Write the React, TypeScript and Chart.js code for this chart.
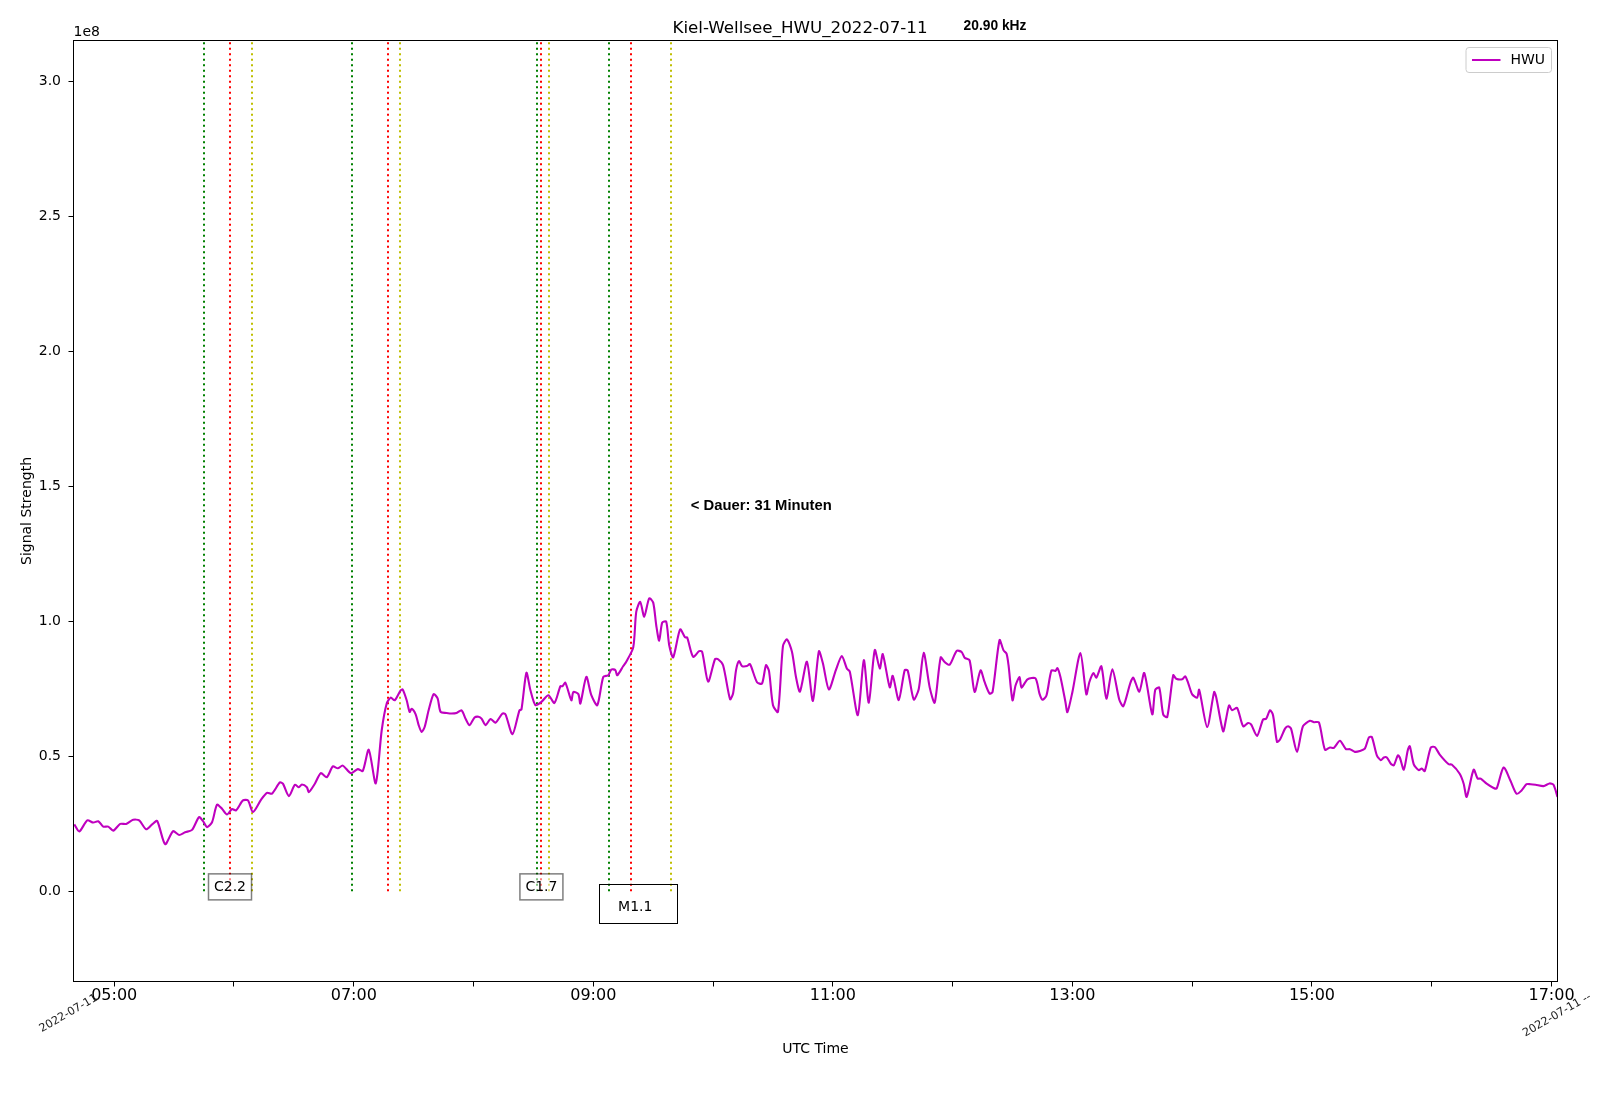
import React, { useEffect, useRef } from "react";
import { Chart, registerables } from "chart.js";

Chart.register(...registerables);

// ---------- texts ----------
const TITLE = "Kiel-Wellsee_HWU_2022-07-11";
const FREQ_LABEL = "20.90 kHz";
const SERIES_NAME = "HWU";
const X_LABEL = "UTC Time";
const Y_LABEL = "Signal Strength";
const Y_OFFSET_LABEL = "1e8";
const DATE_LABEL_LEFT = "2022-07-11";
const DATE_LABEL_RIGHT = "2022-07-11 --";
const DURATION_TEXT = "< Dauer: 31 Minuten";
const DURATION_AT_TIME = "09:48:50";
const DURATION_AT_VALUE = 1.43;

// ---------- axes ----------
const X_MIN = "04:39:36";
const X_MAX = "17:03:00";
const X_TICKS = ["05:00", "06:00", "07:00", "08:00", "09:00", "10:00", "11:00", "12:00", "13:00", "14:00", "15:00", "16:00", "17:00"];
const X_TICK_LABELS = ["05:00", "07:00", "09:00", "11:00", "13:00", "15:00", "17:00"];
const Y_MIN = -0.334;
const Y_MAX = 3.153;
const Y_TICKS = [0, 0.5, 1.0, 1.5, 2.0, 2.5, 3.0];

// ---------- flare events ----------
const flareStart = ["05:45", "06:59", "08:32", "09:08"];
const flarePeak = ["05:58", "07:17", "08:34", "09:19"];
const flareEnd = ["06:09", "07:23", "08:38", "09:39"];
const flareClass = ["C2.2", "", "C1.7", "M1.1"];

// ---------- series (signal strength, units of 1e8) ----------
const times = [
  "04:40:00", "04:42:30", "04:46:30", "04:49:30", "04:52:00", "04:54:30", "04:57:00", "04:59:30",
  "05:03:00", "05:06:00", "05:09:30", "05:12:30", "05:16:00", "05:19:00", "05:21:30", "05:25:30",
  "05:29:30", "05:32:30", "05:35:30", "05:39:00", "05:42:30", "05:44:30", "05:46:30", "05:49:00",
  "05:51:30", "05:54:00", "05:56:30", "05:59:00", "06:01:00", "06:04:30", "06:07:00", "06:09:30",
  "06:13:30", "06:16:30", "06:19:00", "06:23:00", "06:24:30", "06:27:30", "06:30:30", "06:32:30",
  "06:34:00", "06:36:30", "06:37:30", "06:40:30", "06:43:30", "06:46:30", "06:49:30", "06:52:00",
  "06:54:30", "06:58:30", "07:02:00", "07:04:30", "07:07:30", "07:11:00", "07:14:00", "07:16:30",
  "07:18:30", "07:20:30", "07:23:30", "07:24:30", "07:26:30", "07:28:00", "07:29:00", "07:31:00",
  "07:32:30", "07:34:00", "07:35:30", "07:37:30", "07:40:00", "07:42:00", "07:43:30", "07:46:30",
  "07:49:00", "07:51:30", "07:54:00", "07:56:00", "07:58:00", "08:00:30", "08:02:30", "08:04:00",
  "08:06:00", "08:08:30", "08:11:00", "08:14:30", "08:16:00", "08:19:30", "08:23:00", "08:24:00",
  "08:26:30", "08:28:30", "08:31:00", "08:34:00", "08:37:30", "08:40:30", "08:43:30", "08:44:30",
  "08:46:00", "08:49:00", "08:50:00", "08:52:30", "08:53:30", "08:56:30", "08:59:00", "09:02:00",
  "09:05:00", "09:07:30", "09:09:00", "09:11:00", "09:12:00", "09:15:00", "09:16:30", "09:20:00",
  "09:21:30", "09:23:30", "09:25:30", "09:28:00", "09:30:00", "09:31:30", "09:33:00", "09:34:30",
  "09:36:30", "09:38:00", "09:40:00", "09:43:30", "09:46:00", "09:47:00", "09:50:00", "09:53:00",
  "09:54:30", "09:57:30", "10:01:00", "10:02:30", "10:05:00", "10:08:30", "10:10:00", "10:11:30",
  "10:13:00", "10:14:30", "10:17:00", "10:18:30", "10:22:00", "10:24:30", "10:26:30", "10:28:00",
  "10:30:00", "10:32:30", "10:35:00", "10:37:00", "10:39:30", "10:41:30", "10:43:30", "10:47:00",
  "10:50:00", "10:53:00", "10:55:00", "10:58:00", "11:01:30", "11:04:30", "11:07:00", "11:08:30",
  "11:12:30", "11:15:30", "11:18:00", "11:21:00", "11:23:30", "11:25:00", "11:28:30", "11:30:00",
  "11:33:00", "11:36:00", "11:37:30", "11:40:30", "11:43:00", "11:45:30", "11:48:30", "11:51:00",
  "11:54:00", "11:56:00", "11:58:30", "12:02:00", "12:04:30", "12:06:00", "12:08:30", "12:11:00",
  "12:14:00", "12:16:00", "12:18:30", "12:20:00", "12:23:30", "12:25:30", "12:27:00", "12:28:00",
  "12:30:00", "12:31:30", "12:33:30", "12:34:30", "12:37:30", "12:41:30", "12:43:30", "12:45:00",
  "12:47:00", "12:49:30", "12:51:30", "12:52:30", "12:54:00", "12:56:30", "12:57:30", "13:00:00",
  "13:04:00", "13:07:00", "13:08:30", "13:10:30", "13:12:00", "13:14:30", "13:17:00", "13:20:00",
  "13:23:30", "13:25:30", "13:29:00", "13:30:30", "13:33:30", "13:36:00", "13:40:00", "13:41:30",
  "13:43:30", "13:45:30", "13:47:30", "13:50:30", "13:52:00", "13:55:00", "13:56:30", "13:58:00",
  "14:00:00", "14:02:30", "14:03:30", "14:07:30", "14:11:00", "14:12:00", "14:15:30", "14:17:00",
  "14:18:30", "14:20:00", "14:22:30", "14:25:30", "14:28:00", "14:29:30", "14:32:30", "14:35:30",
  "14:37:00", "14:39:00", "14:40:30", "14:42:30", "14:44:00", "14:46:30", "14:48:00", "14:49:30",
  "14:52:30", "14:55:30", "14:59:00", "15:01:00", "15:03:30", "15:06:30", "15:09:00", "15:11:00",
  "15:14:00", "15:17:00", "15:19:00", "15:21:30", "15:24:00", "15:26:30", "15:28:30", "15:30:00",
  "15:32:30", "15:34:30", "15:36:00", "15:37:30", "15:39:30", "15:41:00", "15:43:00", "15:44:00",
  "15:46:00", "15:48:00", "15:49:00", "15:51:00", "15:53:30", "15:55:00", "15:56:30", "15:59:30",
  "16:01:30", "16:04:00", "16:08:30", "16:10:00", "16:14:00", "16:16:00", "16:17:30", "16:21:00",
  "16:23:00", "16:24:30", "16:27:30", "16:31:00", "16:32:30", "16:36:00", "16:39:30", "16:42:30",
  "16:45:00", "16:47:30", "16:49:30", "16:52:00", "16:56:00", "16:59:00", "17:01:00", "17:03:00",
];

const values = [
  0.248, 0.222, 0.263, 0.255, 0.260, 0.240, 0.240, 0.225,
  0.250, 0.250, 0.265, 0.263, 0.230, 0.248, 0.261, 0.175,
  0.223, 0.209, 0.219, 0.228, 0.275, 0.260, 0.238, 0.256,
  0.321, 0.306, 0.285, 0.305, 0.300, 0.337, 0.337, 0.294,
  0.339, 0.365, 0.362, 0.404, 0.399, 0.353, 0.395, 0.386,
  0.396, 0.386, 0.368, 0.399, 0.438, 0.423, 0.463, 0.456,
  0.466, 0.438, 0.453, 0.446, 0.525, 0.400, 0.597, 0.696,
  0.718, 0.708, 0.745, 0.748, 0.708, 0.665, 0.677, 0.656,
  0.616, 0.591, 0.609, 0.671, 0.731, 0.715, 0.665, 0.661,
  0.659, 0.661, 0.671, 0.640, 0.616, 0.644, 0.647, 0.640,
  0.616, 0.639, 0.625, 0.659, 0.656, 0.582, 0.671, 0.674,
  0.810, 0.745, 0.690, 0.702, 0.727, 0.698, 0.760, 0.760,
  0.773, 0.708, 0.739, 0.731, 0.696, 0.795, 0.727, 0.690,
  0.795, 0.801, 0.822, 0.820, 0.801, 0.835, 0.851, 0.904,
  1.036, 1.073, 1.018, 1.086, 1.070, 0.987, 0.929, 0.996,
  1.000, 0.913, 0.867, 0.971, 0.941, 0.941, 0.869, 0.890,
  0.888, 0.777, 0.861, 0.860, 0.838, 0.712, 0.733, 0.820,
  0.853, 0.835, 0.835, 0.842, 0.775, 0.770, 0.838, 0.817,
  0.690, 0.665, 0.909, 0.934, 0.888, 0.795, 0.740, 0.851,
  0.706, 0.890, 0.845, 0.748, 0.820, 0.872, 0.826, 0.814,
  0.653, 0.857, 0.699, 0.894, 0.826, 0.879, 0.756, 0.799,
  0.709, 0.820, 0.818, 0.711, 0.749, 0.884, 0.756, 0.699,
  0.867, 0.850, 0.840, 0.891, 0.887, 0.866, 0.856, 0.739,
  0.819, 0.776, 0.733, 0.739, 0.931, 0.893, 0.881, 0.838,
  0.708, 0.763, 0.794, 0.755, 0.786, 0.789, 0.733, 0.710,
  0.726, 0.819, 0.817, 0.827, 0.794, 0.702, 0.664, 0.739,
  0.883, 0.730, 0.776, 0.809, 0.792, 0.834, 0.714, 0.823,
  0.710, 0.686, 0.772, 0.792, 0.740, 0.809, 0.656, 0.747,
  0.755, 0.655, 0.646, 0.801, 0.788, 0.786, 0.797, 0.772,
  0.730, 0.718, 0.747, 0.609, 0.739, 0.720, 0.593, 0.640,
  0.689, 0.671, 0.680, 0.612, 0.624, 0.619, 0.576, 0.637,
  0.639, 0.671, 0.653, 0.554, 0.563, 0.603, 0.612, 0.603,
  0.517, 0.612, 0.632, 0.627, 0.626, 0.525, 0.533, 0.532,
  0.558, 0.527, 0.527, 0.517, 0.520, 0.529, 0.570, 0.572,
  0.504, 0.486, 0.496, 0.496, 0.473, 0.467, 0.504, 0.496,
  0.451, 0.523, 0.538, 0.471, 0.449, 0.455, 0.446, 0.533,
  0.535, 0.507, 0.471, 0.470, 0.436, 0.399, 0.350, 0.451,
  0.418, 0.418, 0.399, 0.383, 0.381, 0.459, 0.409, 0.362,
  0.374, 0.397, 0.397, 0.395, 0.390, 0.400, 0.395, 0.350,
];

// ---------- styles ----------
const FONT = '"DejaVu Sans", sans-serif';
const BOLD_FONT = '"Liberation Sans", Arial, sans-serif';
const LINE_COLOR = "#bf00bf";
const START_COLOR = "#008000";
const PEAK_COLOR = "#ff0000";
const END_COLOR = "#bfbf00";

const toMin = (s: string): number => {
  const p = s.split(":").map(Number);
  return p[0] * 60 + p[1] + (p[2] || 0) / 60;
};
const fmtHM = (m: number): string => {
  const h = Math.floor(m / 60 + 1e-9);
  const mm = Math.round(m - h * 60);
  return String(h).padStart(2, "0") + ":" + String(mm).padStart(2, "0");
};

const overlayPlugin = {
  id: "overlay",
  beforeDatasetsDraw(chart: any) {
    const { ctx, chartArea, scales } = chart;
    const x = scales.x;
    const y = scales.y;
    const y0 = y.getPixelForValue(0);
    ctx.save();
    ctx.beginPath();
    ctx.rect(chartArea.left, chartArea.top, chartArea.right - chartArea.left, chartArea.bottom - chartArea.top);
    ctx.clip();
    const groups: [string[], string][] = [
      [flareStart, START_COLOR],
      [flarePeak, PEAK_COLOR],
      [flareEnd, END_COLOR],
    ];
    ctx.lineWidth = 2;
    ctx.setLineDash([2.1, 3.4]);
    ctx.lineCap = "butt";
    for (const [arr, color] of groups) {
      ctx.strokeStyle = color;
      for (const t of arr) {
        const px = Math.round(x.getPixelForValue(toMin(t)));
        ctx.beginPath();
        ctx.moveTo(px, y0);
        ctx.lineTo(px, chartArea.top);
        ctx.stroke();
      }
    }
    ctx.restore();
  },
  afterDatasetsDraw(chart: any) {
    const { ctx, scales } = chart;
    const x = scales.x;
    const y = scales.y;
    const y0 = y.getPixelForValue(0);
    ctx.save();
    ctx.font = `14px ${FONT}`;
    ctx.textAlign = "center";
    ctx.textBaseline = "middle";
    flareClass.forEach((cls, i) => {
      if (!cls) return;
      const px = x.getPixelForValue(toMin(flarePeak[i]));
      if (cls[0] === "M") {
        ctx.lineWidth = 1;
        ctx.strokeStyle = "#000";
        ctx.strokeRect(Math.round(px - 32) + 0.5, Math.round(y0 - 7.5) + 0.5, 78, 39);
        ctx.fillStyle = "#000";
        ctx.fillText(cls, px + 4, y0 + 15.5);
      } else {
        const w = 43;
        const h = 26;
        const l = px - w / 2;
        const t = y0 - 4.5 - h / 2;
        ctx.fillStyle = "rgba(255,255,255,0.5)";
        ctx.fillRect(l, t, w, h);
        ctx.lineWidth = 1.5;
        ctx.strokeStyle = "rgba(0,0,0,0.5)";
        ctx.strokeRect(l, t, w, h);
        ctx.fillStyle = "#000";
        ctx.fillText(cls, px, y0 - 4);
      }
    });
    // duration annotation
    ctx.font = `bold 14.8px ${BOLD_FONT}`;
    ctx.textAlign = "left";
    ctx.fillStyle = "#000";
    ctx.fillText(DURATION_TEXT, x.getPixelForValue(toMin(DURATION_AT_TIME)), y.getPixelForValue(DURATION_AT_VALUE));
    ctx.restore();
  },
  afterDraw(chart: any) {
    const { ctx, chartArea } = chart;
    const { left, right, top, bottom } = chartArea;
    ctx.save();
    // frame
    ctx.lineWidth = 1;
    ctx.strokeStyle = "#000";
    ctx.setLineDash([]);
    ctx.strokeRect(left, top, right - left, bottom - top);
    // title
    ctx.fillStyle = "#000";
    ctx.font = `16.7px ${FONT}`;
    ctx.textAlign = "center";
    ctx.textBaseline = "middle";
    ctx.fillText(TITLE, 800, 29);
    ctx.font = `bold 13.8px ${BOLD_FONT}`;
    ctx.fillText(FREQ_LABEL, 995, 26);
    // offset text
    ctx.font = `14px ${FONT}`;
    ctx.textAlign = "left";
    ctx.textBaseline = "alphabetic";
    ctx.fillText(Y_OFFSET_LABEL, left, 36);
    // rotated date labels
    ctx.font = `11.2px ${FONT}`;
    ctx.fillStyle = "#1a1a1a";
    ctx.textAlign = "center";
    ctx.textBaseline = "middle";
    ctx.save();
    ctx.translate(left - 5, bottom + 32);
    ctx.rotate(-Math.PI / 6);
    ctx.fillText(DATE_LABEL_LEFT, 0, 0);
    ctx.restore();
    ctx.save();
    ctx.translate(right - 0.5, bottom + 33.5);
    ctx.rotate(-Math.PI / 6);
    ctx.fillText(DATE_LABEL_RIGHT, 0, 0);
    ctx.restore();
    // legend
    const lx = right - 91.5;
    const ly = top + 7;
    const lw = 85.5;
    const lh = 25;
    const r = 3;
    ctx.beginPath();
    ctx.moveTo(lx + r, ly);
    ctx.lineTo(lx + lw - r, ly);
    ctx.quadraticCurveTo(lx + lw, ly, lx + lw, ly + r);
    ctx.lineTo(lx + lw, ly + lh - r);
    ctx.quadraticCurveTo(lx + lw, ly + lh, lx + lw - r, ly + lh);
    ctx.lineTo(lx + r, ly + lh);
    ctx.quadraticCurveTo(lx, ly + lh, lx, ly + lh - r);
    ctx.lineTo(lx, ly + r);
    ctx.quadraticCurveTo(lx, ly, lx + r, ly);
    ctx.closePath();
    ctx.fillStyle = "rgba(255,255,255,0.8)";
    ctx.fill();
    ctx.strokeStyle = "#cccccc";
    ctx.lineWidth = 1;
    ctx.stroke();
    ctx.strokeStyle = LINE_COLOR;
    ctx.lineWidth = 2;
    ctx.beginPath();
    ctx.moveTo(lx + 6, ly + 12.5);
    ctx.lineTo(lx + 34.5, ly + 12.5);
    ctx.stroke();
    ctx.fillStyle = "#000";
    ctx.font = `14px ${FONT}`;
    ctx.textAlign = "left";
    ctx.textBaseline = "middle";
    ctx.fillText(SERIES_NAME, lx + 44.5, ly + 12.5);
    ctx.restore();
  },
};

export default function App() {
  const ref = useRef<HTMLCanvasElement>(null);
  useEffect(() => {
    const canvas = ref.current;
    if (!canvas) return;
    Chart.defaults.font.family = FONT;
    Chart.defaults.color = "#000";
    const data = times.map((t, i) => ({ x: toMin(t), y: values[i] }));
    const tickGrid = {
      display: true,
      drawOnChartArea: false,
      drawTicks: true,
      tickLength: 5,
      color: "#000",
      lineWidth: 1,
    };
    const chart = new Chart(canvas, {
      type: "line",
      data: {
        datasets: [
          {
            label: SERIES_NAME,
            data,
            borderColor: LINE_COLOR,
            backgroundColor: LINE_COLOR,
            borderWidth: 2.1,
            pointRadius: 0,
            tension: 0.25,
            fill: false,
            borderJoinStyle: "round",
          },
        ],
      },
      options: {
        animation: false,
        responsive: false,
        maintainAspectRatio: false,
        devicePixelRatio: 1,
        layout: { padding: { left: 0, top: 40.5, right: 42.5, bottom: 0 } },
        plugins: {
          legend: { display: false },
          title: { display: false },
          tooltip: { enabled: false },
        },
        scales: {
          x: {
            type: "linear",
            min: toMin(X_MIN),
            max: toMin(X_MAX),
            afterBuildTicks: (s: any) => {
              s.ticks = X_TICKS.map((t) => ({ value: toMin(t) }));
            },
            afterFit: (s: any) => {
              s.height = 120.5;
            },
            ticks: {
              autoSkip: false,
              maxRotation: 0,
              minRotation: 0,
              padding: 1,
              color: "#000",
              font: { size: 16, lineHeight: 1 },
              callback: (v: any) => {
                const lbl = fmtHM(Number(v));
                return X_TICK_LABELS.includes(lbl) ? lbl : "";
              },
            },
            grid: tickGrid,
            border: { display: false },
            title: {
              display: true,
              text: X_LABEL,
              color: "#000",
              font: { size: 14, lineHeight: 1.2 },
              padding: { top: 0, bottom: 44.6 },
            },
          },
          y: {
            type: "linear",
            min: Y_MIN,
            max: Y_MAX,
            afterBuildTicks: (s: any) => {
              s.ticks = Y_TICKS.map((v) => ({ value: v }));
            },
            afterFit: (s: any) => {
              s.width = 73.5;
            },
            ticks: {
              padding: 7.5,
              color: "#000",
              font: { size: 14 },
              callback: (v: any) => Number(v).toFixed(1),
            },
            grid: tickGrid,
            border: { display: false },
            title: {
              display: true,
              text: Y_LABEL,
              color: "#000",
              font: { size: 14, lineHeight: 1.2 },
              padding: { top: 19.1, bottom: 0 },
            },
          },
        },
      } as any,
      plugins: [overlayPlugin],
    });
    return () => chart.destroy();
  }, []);
  return (
    <div style={{ position: "absolute", left: 0, top: 0, width: 1600, height: 1102, background: "#fff" }}>
      <canvas ref={ref} width={1600} height={1102} style={{ display: "block", width: 1600, height: 1102 }} />
    </div>
  );
}
